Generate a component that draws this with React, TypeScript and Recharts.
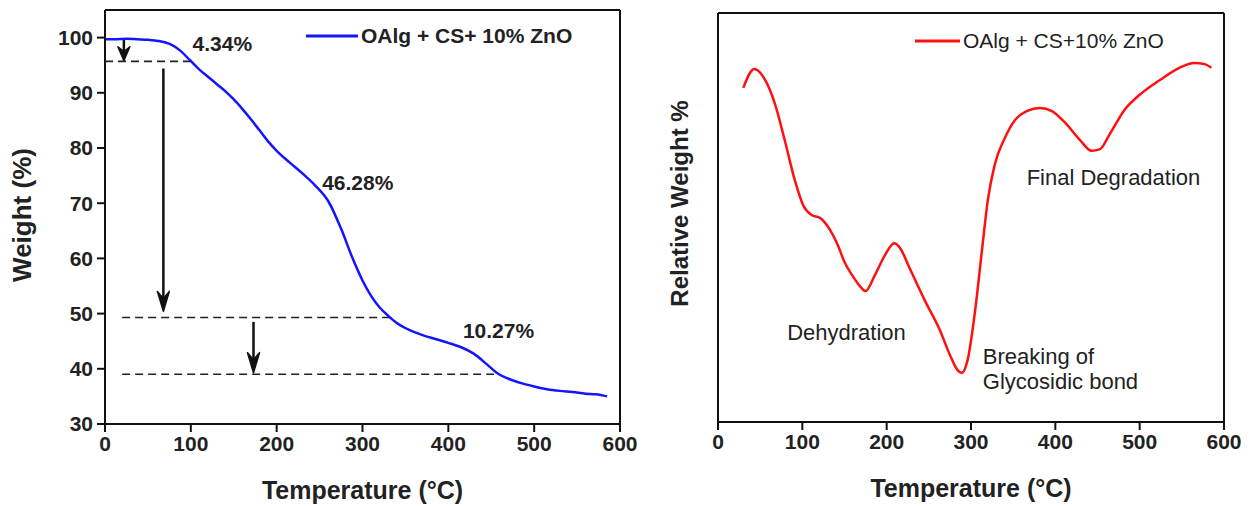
import { LineChart, Line, XAxis, YAxis, ReferenceLine, ReferenceDot, Legend, Label } from 'recharts'

const FONT = '"Liberation Sans", Arial, sans-serif'

const xTicks = [0, 100, 200, 300, 400, 500, 600]
const weightTicks = [30, 40, 50, 60, 70, 80, 90, 100]

// TGA curve (left)
const tgaTemp = [0, 12, 25, 38, 50, 62, 76, 88, 99, 110, 120, 130, 140, 150, 160, 170, 180, 190, 200, 215, 230, 245, 260, 275, 288, 300, 310, 320, 330, 340, 355, 370, 385, 400, 415, 430, 445, 458, 470, 485, 500, 515, 530, 545, 560, 572, 585]
const tgaWeight = [99.7, 99.7, 99.8, 99.7, 99.6, 99.4, 98.8, 97.6, 95.9, 94.2, 92.9, 91.6, 90.3, 88.8, 87.1, 85.2, 83.2, 81.2, 79.5, 77.4, 75.4, 73.2, 70.4, 65.4, 60.2, 56.0, 53.2, 51.1, 49.6, 48.3, 47.0, 46.1, 45.4, 44.7, 43.9, 42.7, 40.8, 39.1, 38.2, 37.4, 36.8, 36.3, 36.0, 35.8, 35.5, 35.4, 35.0]

// DTG curve (right), relative units
const dtgTemp = [30, 43, 56, 68, 79, 91, 101, 111, 121, 133, 142, 150, 159, 168, 175, 186, 198, 209, 216, 227, 245, 263, 275, 284, 289, 296, 305, 313, 320, 328, 340, 352, 366, 382, 396, 411, 429, 443, 453, 464, 482, 500, 524, 547, 565, 577, 585]
const dtgValue = [81.7, 86.3, 83.6, 77.5, 69, 59.2, 53, 50.6, 49.9, 46.9, 43.3, 39.1, 35.9, 33.3, 32, 35.9, 40.8, 43.7, 42.5, 37.7, 29.8, 22.5, 16.4, 12.7, 12, 15.2, 27.4, 42, 54.3, 62.8, 69.4, 73.8, 76, 76.8, 76, 73.3, 69, 66.3, 66.7, 70.2, 76.3, 80, 83.6, 86.6, 87.8, 87.5, 86.6]

// step levels: [y, xStart, xEnd]
const stepLines = [
  [95.7, 0, 101],
  [49.3, 20, 332],
  [39.0, 20, 458],
]
// arrows: [x, yFrom, yTo]
const arrows = [
  [22, 99.7, 95.8],
  [68, 94.4, 50.4],
  [173, 48.5, 39.3],
]
// loss labels: [text, x, y]
const lossLabels: [string, number, number][] = [
  ['4.34%', 102, 99.0],
  ['46.28%', 253, 73.8],
  ['10.27%', 417, 46.9],
]
const stageLabels: [string, number, number][] = [
  ['Final Degradation', 366, 59.9],
  ['Dehydration', 82, 21.8],
  ['Breaking of', 314, 16.1],
  ['Glycosidic bond', 314, 9.8],
]

const tgaData = tgaTemp.map((t, i) => ({ t, w: tgaWeight[i] }))
const dtgData = dtgTemp.map((t, i) => ({ t, v: dtgValue[i] }))

const tickStyle = { fontSize: 21, fontWeight: 'bold', fill: '#222', fontFamily: FONT }

const arrowShape = (p: any) => {
  const { x1, y1, x2, y2 } = p
  const len = Math.abs(y2 - y1)
  const head = Math.min(20, len * 0.65)
  return (
    <g>
      <line x1={x1} y1={y1} x2={x2} y2={y2 - head * 0.6} stroke="#111" strokeWidth={2.5} />
      <polygon
        points={`${x2},${y2} ${x2 - 6},${y2 - head} ${x2},${y2 - head * 0.65} ${x2 + 6},${y2 - head}`}
        fill="#111"
        stroke="#111"
        strokeWidth={1.5}
        strokeLinejoin="round"
      />
    </g>
  )
}

const noteContent = (text: string, style: any) => (props: any) => {
  const vb = props.viewBox || {}
  const cx = vb.x + (vb.width || 0) / 2
  const cy = vb.y + (vb.height || 0) / 2
  return (
    <text x={cx} y={cy} dominantBaseline="central" textAnchor="start" style={style}>
      {text}
    </text>
  )
}

const yTitle = (text: string, dx: number, dy: number, size: number) => (props: any) => {
  const vb = props.viewBox || {}
  const x = vb.x + dx
  const y = vb.y + vb.height / 2 + dy
  return (
    <text
      x={x}
      y={y}
      transform={`rotate(-90 ${x} ${y})`}
      textAnchor="middle"
      dominantBaseline="central"
      style={{ fontSize: size, fontWeight: 'bold', fill: '#222', fontFamily: FONT }}
    >
      {text}
    </text>
  )
}

const xTitle = (text: string) => (props: any) => {
  const vb = props.viewBox || {}
  return (
    <text
      x={vb.x + vb.width / 2}
      y={vb.y + 66}
      textAnchor="middle"
      dominantBaseline="central"
      style={{ fontSize: 25, fontWeight: 'bold', fill: '#222', fontFamily: FONT }}
    >
      {text}
    </text>
  )
}

const legendBox = (color: string, text: string, lineW: number, bold: boolean) => () => (
  <div style={{ display: 'flex', alignItems: 'center', fontFamily: FONT, fontSize: 21, fontWeight: bold ? 'bold' : 'normal', color: '#222', whiteSpace: 'nowrap', lineHeight: '24px' }}>
    <svg width={lineW} height={4} style={{ marginRight: 3 }}>
      <line x1={0} y1={2} x2={lineW} y2={2} stroke={color} strokeWidth={3} />
    </svg>
    <span>{text}</span>
  </div>
)

function TgaChart() {
  return (
    <LineChart width={640} height={506} data={tgaData} margin={{ top: 10, right: 20, bottom: 0, left: 0 }}>
      <XAxis
        dataKey="t"
        type="number"
        domain={[0, 600]}
        ticks={xTicks}
        height={82}
        tickSize={8}
        tickMargin={4}
        tick={tickStyle}
        axisLine={{ stroke: '#111', strokeWidth: 2 }}
        tickLine={{ stroke: '#111', strokeWidth: 2 }}
      >
        <Label content={xTitle('Temperature (°C)')} />
      </XAxis>
      <YAxis
        type="number"
        domain={[30, 105]}
        ticks={weightTicks}
        width={105}
        tickSize={8}
        tickMargin={4}
        tick={tickStyle}
        axisLine={{ stroke: '#111', strokeWidth: 2 }}
        tickLine={{ stroke: '#111', strokeWidth: 2 }}
      >
        <Label content={yTitle('Weight (%)', 22, -2, 26)} />
      </YAxis>
      <ReferenceLine y={105} stroke="#111" strokeWidth={2} />
      <ReferenceLine x={600} stroke="#111" strokeWidth={2} />
      {stepLines.map(([y, a, b], i) => (
        <ReferenceLine key={'s' + i} segment={[{ x: a, y }, { x: b, y }]} stroke="#222" strokeWidth={1.6} strokeDasharray="8 5" />
      ))}
      {arrows.map(([x, a, b], i) => (
        <ReferenceLine key={'a' + i} segment={[{ x, y: a }, { x, y: b }]} shape={arrowShape} />
      ))}
      {lossLabels.map(([text, x, y], i) => (
        <ReferenceDot key={'l' + i} x={x} y={y} r={1} fill="none" stroke="none"
          label={{ content: noteContent(text, { fontSize: 21, fontWeight: 'bold', fill: '#222', fontFamily: FONT }) }} />
      ))}
      <Legend layout="horizontal" verticalAlign="middle" align="center"
        wrapperStyle={{ left: 306, top: 24, width: 'auto', height: 'auto' }}
        content={legendBox('#1414ff', 'OAlg + CS+ 10% ZnO', 52, true)} />
      <Line type="monotone" dataKey="w" stroke="#1414ff" strokeWidth={2.5} dot={false} isAnimationActive={false} />
    </LineChart>
  )
}

function DtgChart() {
  return (
    <LineChart width={612} height={506} data={dtgData} margin={{ top: 13, right: 28, bottom: 0, left: 0 }}>
      <XAxis
        dataKey="t"
        type="number"
        domain={[0, 600]}
        ticks={xTicks}
        height={84}
        tickSize={8}
        tickMargin={4}
        tick={tickStyle}
        axisLine={{ stroke: '#111', strokeWidth: 2 }}
        tickLine={{ stroke: '#111', strokeWidth: 2 }}
      >
        <Label content={xTitle('Temperature (°C)')} />
      </XAxis>
      <YAxis
        type="number"
        domain={[0, 100]}
        width={78}
        tick={false}
        tickLine={false}
        axisLine={{ stroke: '#111', strokeWidth: 2 }}
      >
        <Label content={yTitle('Relative Weight %', 39, -14, 24)} />
      </YAxis>
      <ReferenceLine y={100} stroke="#111" strokeWidth={2} />
      <ReferenceLine x={600} stroke="#111" strokeWidth={2} />
      {stageLabels.map(([text, x, y], i) => (
        <ReferenceDot key={'n' + i} x={x} y={y} r={1} fill="none" stroke="none"
          label={{ content: noteContent(text, { fontSize: 22, fill: '#222', fontFamily: FONT }) }} />
      ))}
      <Legend layout="horizontal" verticalAlign="middle" align="center"
        wrapperStyle={{ left: 275, top: 29, width: 'auto', height: 'auto' }}
        content={legendBox('#ff1010', 'OAlg + CS+10% ZnO', 45, false)} />
      <Line type="monotone" dataKey="v" stroke="#ff1010" strokeWidth={2.5} dot={false} isAnimationActive={false} />
    </LineChart>
  )
}

export default function App() {
  return (
    <div style={{ position: 'absolute', left: 0, top: 0, width: 1252, height: 506, background: '#fff', fontFamily: FONT }}>
      <div style={{ position: 'absolute', left: 0, top: 0 }}>
        <TgaChart />
      </div>
      <div style={{ position: 'absolute', left: 640, top: 0 }}>
        <DtgChart />
      </div>
    </div>
  )
}
